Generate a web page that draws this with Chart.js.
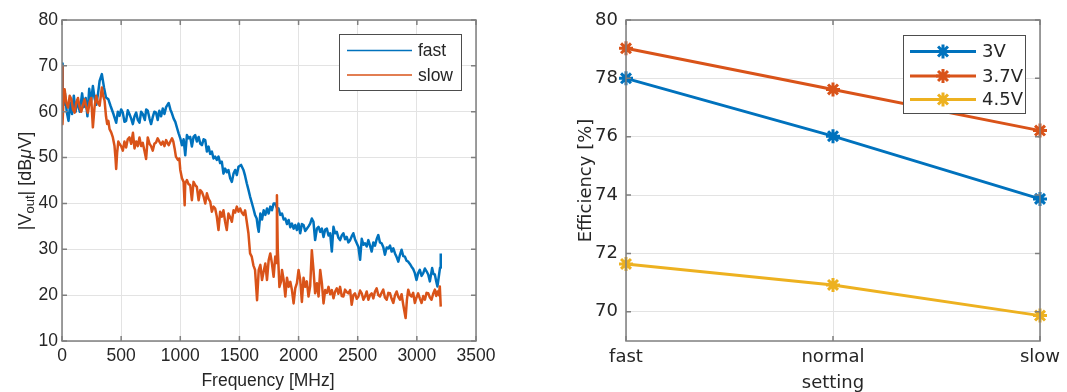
<!DOCTYPE html>
<html><head><meta charset="utf-8">
<script src="https://cdn.jsdelivr.net/npm/chart.js@4/dist/chart.umd.min.js"></script>
<style>
html,body{margin:0;padding:0;background:#fff;width:1067px;height:392px;overflow:hidden}
canvas{position:absolute;top:0}
#c1{left:0}
#c2{left:540px}
</style></head><body>
<canvas id="c1" width="540" height="392"></canvas>
<canvas id="c2" width="527" height="392"></canvas>
<script>
// ---------- Left chart data (spectrum) ----------
const fastFreq = [0,5,15,25,40,55,70,85,100,115,130,150,170,185,200,215,230,245,261,275,290,305,318,337,355,372,392,410,435,458,
472,486,500,514,528,542,556,570,585,599,613,627,641,655,669,683,700,712,725,740,753,767,781,795,809,823,838,852,866,880,
902,916,930,944,958,972,986,1000,1014,1028,1042,1056,1070,1084,1098,1112,1126,1140,1155,1170,1183,1197,1211,1225,1239,1253,1267,1281,1295,1309,
1323,1337,1351,1365,1379,1393,1407,1422,1436,1450,1464,1478,1492,1514,1534,1548,1562,1576,1590,1604,1618,1632,1646,1655,1663,1677,1691,1705,1719,1733,
1747,1761,1775,1789,1803,1817,1831,1845,1860,1874,1888,1902,1916,1930,1944,1958,1972,1986,2000,2014,2028,2042,2056,2070,2084,2098,2112,2126,2140,2155,
2169,2183,2197,2211,2225,2239,2253,2267,2281,2295,2309,2323,2337,2351,2365,2379,2393,2407,2421,2436,2449,2463,2477,2492,2506,2520,2534,2548,2562,2576,
2590,2604,2618,2632,2646,2660,2674,2688,2702,2716,2730,2745,2759,2773,2787,2801,2815,2829,2843,2857,2871,2885,2899,2913,2927,2941,2955,2969,2983,2997,
3011,3025,3040,3054,3068,3082,3096,3110,3129,3140,3152,3164,3174,3188,3196,3202];
const fastVals = [70.5,63,61.5,64,60,58,62,59.5,63.5,60,62.5,60,64,61,63,59,65,62,65.6,63,61.5,64,66.7,68.2,65.3,63.1,62.7,61.3,59.5,57.6,
60,59.1,60.5,59.8,57.8,58,60.3,59.5,58.5,57.3,59,59.8,58.2,57.6,60,59.5,58.2,60.5,60.2,58.5,57.3,58.8,60,59.8,58.2,60.2,59,60.7,59.5,61,
61.9,60.5,59.6,58.5,57.8,56.5,55.3,54.2,52.7,54,50.5,54.9,54.2,54.5,52.4,54.5,54.9,53.5,54.5,53,52.7,54,53.8,51.3,52.4,50.8,51.3,49.8,50.2,49.5,
50.2,48.8,49.1,46.5,47.6,46.8,47.3,45.5,44.7,46.5,47.3,46.2,48,48.4,47.3,46,44.4,43,41.5,40.2,38.9,37.5,36.7,34.9,33.8,37.8,36.5,38.5,37.5,38.9,
37.8,39.3,38.5,40,40,39,38.9,37.5,37.8,36.5,36.7,35.5,36.4,34.8,35.6,34.5,35.3,34.2,35.6,33.5,35.5,35.3,34,34.5,35,35.6,36.7,36,32,34.5,
34.9,33.8,34.5,32.7,34.3,34.5,33,33.5,29.5,34.9,33.5,33.8,32.5,32,33,33.5,32.2,32.7,31.5,32,32.8,33.5,32.2,31.3,30.5,27.7,32.3,31,31.3,30.6,
32,30.8,29.5,31.5,30.8,32.2,33.1,31.5,31.3,30.5,28.8,30.4,30.2,30.8,29.5,30.2,29.1,28.3,27.3,28.8,29.9,28.5,28.4,27.5,27.3,26.8,26.2,25.7,24.8,23.3,
24.8,25.5,24.2,24.8,25.8,25.2,24.5,23,25.9,24.6,24.5,23,21.9,24.5,26,29.1];

const slowFreq = [0,4,12,22,36,51,65,79,93,107,121,135,149,163,177,191,205,219,233,247,261,275,289,303,318,337,348,360,372,382,
392,402,416,430,444,452,458,466,476,486,500,514,528,542,556,570,585,600,613,627,641,655,669,683,697,711,725,740,753,767,
781,795,809,823,838,852,866,880,895,902,916,930,941,952,963,980,992,1000,1014,1028,1037,1042,1056,1070,1084,1098,1112,1126,1140,1155,
1169,1183,1197,1211,1225,1239,1253,1267,1281,1295,1309,1323,1337,1351,1365,1379,1393,1407,1422,1436,1450,1464,1478,1492,1506,1520,1534,1548,1562,1576,
1590,1604,1618,1632,1649,1663,1677,1691,1705,1719,1733,1747,1761,1775,1789,1803,1810,1817,1824,1838,1852,1860,1874,1888,1902,1916,1930,1944,1958,1972,
1986,2000,2014,2028,2042,2056,2070,2084,2098,2112,2126,2140,2155,2169,2183,2197,2211,2225,2239,2253,2267,2281,2295,2309,2323,2337,2351,2365,2379,2393,
2407,2421,2436,2449,2463,2477,2492,2506,2520,2534,2548,2562,2576,2590,2604,2618,2632,2646,2660,2674,2688,2702,2716,2730,2745,2759,2773,2787,2801,2815,
2829,2843,2857,2871,2885,2905,2916,2927,2941,2955,2969,2983,2997,3011,3025,3040,3054,3068,3082,3096,3110,3124,3138,3152,3164,3174,3186,3194,3202];
const slowVals = [70,57.3,62,64.9,62,60.9,63.5,62.7,60.5,59.8,62,63,61,60,61.5,62.7,61,59.8,62,63,56.6,61,63.5,62,61.3,65.3,63.5,62.4,59,57.3,
58,56.2,55.5,54.4,52.5,50,47.5,51,53.5,53,52.5,51.5,53.5,52.2,54,54.4,53,55.4,52,53.5,52.5,54.4,52.5,53.2,51.5,49.7,54.4,53,52.5,51.5,
53,53.3,54.2,53.5,52.8,53.5,52.5,53.8,53,52.7,53.5,54.2,53.5,52,50.2,49.5,49.8,47.3,45.5,44.7,39.6,44.4,45.1,44.2,44,40.7,44.7,44,43.6,40.7,
42.9,42.5,41.5,40,42.2,41,40.4,38.2,39.3,38.9,37.1,34.2,38.2,37.1,38.5,36,34.2,37.8,37,36,38.5,38,39.3,38.2,38.9,38,37.5,38.5,36,33.5,
29.1,28.4,26.5,25.5,18.9,25.5,26.6,23.3,25.2,26.9,23.3,27.6,29.1,26.9,24,28.4,27,41.8,30,21.8,23,25.5,23.3,19.7,23.8,21.8,22.9,21.1,18.2,21.5,
22.6,25.5,23.3,18.5,23.8,21.8,23,19.7,22,29.8,25.5,20.4,22.6,19.7,25.5,22.6,18.2,21.1,20.5,21.8,20.2,21.1,19.3,20.8,21.5,20.3,21.8,19.8,19.7,21.2,
20.7,20.4,21.1,17.9,20,20.4,19.2,19.7,21,20.4,19,19.7,20.8,19,20,20.4,19.3,20.8,21.5,20,19.7,20.5,21.2,19.5,19,20.5,20.4,19.2,18.3,20,
20.8,19.6,19,20.2,17.9,15,19,21.2,20,19.7,20.5,18.3,19.5,20.4,19.3,18.3,19.8,19,20.5,20.4,19.5,19,20.3,21.2,19.8,20.8,20,21.9,17.5];

const leftXTicks = [0,500,1000,1500,2000,2500,3000,3500];
const leftYTicks = [10,20,30,40,50,60,70,80];

// ---------- Right chart data (efficiency) ----------
const settings = ['fast','normal','slow'];
const eff3V  = [78.0, 76.02, 73.87];
const eff37V = [79.03, 77.62, 76.21];
const eff45V = [71.64, 70.92, 69.87];
const rightYTicks = [70,72,74,76,78,80];

// ---------- styling ----------
const TXT='#262626', AX='#7f7f7f', GRID='#e3e3e3';
const LF='"Liberation Sans", Arial, Helvetica, sans-serif';
const RF='"DejaVu Sans", sans-serif';
const BLUE='#0072BD', ORANGE='#D95319', YELLOW='#EDB120';

function drawStar(ctx, x, y, r){
  ctx.beginPath();
  for(let k=0;k<4;k++){
    const a=k*Math.PI/4;
    ctx.moveTo(x-r*Math.cos(a), y-r*Math.sin(a));
    ctx.lineTo(x+r*Math.cos(a), y+r*Math.sin(a));
  }
  ctx.stroke();
}

const boxPlugin = {
  id:'axbox',
  afterDatasetsDraw(chart){
    const {ctx, chartArea:a, scales} = chart;
    ctx.save();
    ctx.strokeStyle=AX; ctx.lineWidth=1.5;
    ctx.strokeRect(a.left, a.top, a.right-a.left, a.bottom-a.top);
    const L=5;
    ctx.beginPath();
    scales.x.ticks.forEach((t,i)=>{const p=scales.x.getPixelForTick(i);
      ctx.moveTo(p,a.bottom); ctx.lineTo(p,a.bottom-L); ctx.moveTo(p,a.top); ctx.lineTo(p,a.top+L);});
    scales.y.ticks.forEach((t,i)=>{const p=scales.y.getPixelForTick(i);
      ctx.moveTo(a.left,p); ctx.lineTo(a.left+L,p); ctx.moveTo(a.right,p); ctx.lineTo(a.right-L,p);});
    ctx.stroke();
    ctx.restore();
  }
};

const legendPlugin = {
  id:'boxLegend',
  afterDraw(chart, args, o){
    const ctx=chart.ctx;
    ctx.save();
    ctx.fillStyle='#fff'; ctx.fillRect(o.x,o.y,o.w,o.h);
    ctx.strokeStyle='#4d4d4d'; ctx.lineWidth=1; ctx.strokeRect(o.x+0.5,o.y+0.5,o.w,o.h);
    chart.data.datasets.forEach((ds,i)=>{
      const cy=o.rows[i];
      ctx.strokeStyle=ds.borderColor; ctx.lineWidth=o.lineWidth; ctx.lineCap='butt';
      ctx.beginPath(); ctx.moveTo(o.x0,cy); ctx.lineTo(o.x1,cy); ctx.stroke();
      if(o.marker){ ctx.lineWidth=ds.pointBorderWidth; drawStar(ctx,(o.x0+o.x1)/2,cy,ds.pointRadius); }
      ctx.fillStyle=TXT; ctx.font=o.font; ctx.textBaseline='middle'; ctx.textAlign='left';
      ctx.fillText(ds.label,o.tx,cy+1);
    });
    ctx.restore();
  }
};

const titlesPlugin = {
  id:'axTitles',
  afterDraw(chart, args, o){
    const ctx=chart.ctx;
    ctx.save();
    ctx.fillStyle=TXT;
    (o.items||[]).forEach(it=>{
      ctx.save();
      ctx.translate(it.x,it.y);
      if(it.rot) ctx.rotate(it.rot);
      ctx.textBaseline='alphabetic';
      let w=0; it.parts.forEach(p=>{ctx.font=p.f; w+=ctx.measureText(p.t).width;});
      let x=-w/2;
      it.parts.forEach(p=>{ctx.font=p.f; ctx.fillText(p.t,x,it.base+(p.dy||0)); x+=ctx.measureText(p.t).width;});
      ctx.restore();
    });
    ctx.restore();
  }
};

function fixTicks(list){ return function(s){ s.ticks = list.map(v=>({value:v})); }; }

// ---------- Left chart ----------
new Chart(document.getElementById('c1'), {
  type:'line',
  data:{ datasets:[
    {label:'fast', data: fastFreq.map((f,i)=>({x:f,y:fastVals[i]})), borderColor:BLUE, borderWidth:2.5, pointRadius:0, tension:0, order:1, borderJoinStyle:'round'},
    {label:'slow', data: slowFreq.map((f,i)=>({x:f,y:slowVals[i]})), borderColor:ORANGE, borderWidth:2.5, pointRadius:0, tension:0, order:0, borderJoinStyle:'round'}
  ]},
  options:{
    responsive:false, animation:false, devicePixelRatio:1,
    layout:{padding:{left:0,right:64,top:20,bottom:0}},
    plugins:{
      legend:{display:false}, tooltip:{enabled:false},
      boxLegend:{x:339,y:34,w:122,h:56,rows:[50.5,75],x0:347,x1:412,tx:418,lineWidth:1.5,marker:false,font:'17.5px '+LF},
      axTitles:{items:[
        {x:268,y:380,base:6,parts:[{t:'Frequency [MHz]',f:'17.5px '+LF}]},
        {x:24,y:181,rot:-Math.PI/2,base:6.5,parts:[
          {t:'|V',f:'18px '+LF},{t:'out',f:'13px '+LF,dy:3},{t:'| [dB',f:'18px '+LF},{t:'\u03BC',f:'italic 18px '+LF},{t:'V]',f:'18px '+LF}]}
      ]}
    },
    scales:{
      x:{type:'linear',min:0,max:3500,afterBuildTicks:fixTicks(leftXTicks),
         afterFit:s=>{s.height=51;},
         grid:{color:GRID,drawTicks:false,lineWidth:1},border:{display:false},
         ticks:{color:TXT,font:{family:LF,size:17.5},padding:5,maxRotation:0,autoSkip:false,callback:v=>String(v)}},
      y:{type:'linear',min:10,max:80,afterBuildTicks:fixTicks(leftYTicks),
         afterFit:s=>{s.width=62;},
         grid:{color:GRID,drawTicks:false,lineWidth:1},border:{display:false},
         ticks:{color:TXT,font:{family:LF,size:17.5},padding:4,callback:v=>String(v)}}
    }
  },
  plugins:[boxPlugin,legendPlugin,titlesPlugin]
});

// ---------- Right chart ----------
const mk = (label,vals,color)=>({label,data:vals,borderColor:color,backgroundColor:color,borderWidth:3,
  pointStyle:'star',pointRadius:7,pointBorderWidth:3,pointBorderColor:color,pointBackgroundColor:color,tension:0});
new Chart(document.getElementById('c2'), {
  type:'line',
  data:{ labels:settings, datasets:[ mk('3V',eff3V,BLUE), mk('3.7V',eff37V,ORANGE), mk('4.5V',eff45V,YELLOW) ]},
  options:{
    responsive:false, animation:false, devicePixelRatio:1,
    layout:{padding:{left:0,right:27,top:20,bottom:0}},
    plugins:{
      legend:{display:false}, tooltip:{enabled:false},
      boxLegend:{x:363,y:35,w:122,h:78,rows:[51.5,76,99.5],x0:370,x1:436,tx:442,lineWidth:3,marker:true,font:'18px '+RF},
      axTitles:{items:[
        {x:293,y:381,base:6.5,parts:[{t:'setting',f:'18px '+RF}]},
        {x:44,y:180.5,rot:-Math.PI/2,base:6.5,parts:[{t:'Efficiency [%]',f:'18px '+RF}]}
      ]}
    },
    scales:{
      x:{type:'category',offset:false,
         afterFit:s=>{s.height=51;},
         grid:{color:GRID,drawTicks:false,offset:false},border:{display:false},
         ticks:{color:TXT,font:{family:RF,size:18},padding:6,maxRotation:0,autoSkip:false}},
      y:{type:'linear',min:69,max:80,afterBuildTicks:fixTicks(rightYTicks),
         afterFit:s=>{s.width=86;},
         grid:{color:GRID,drawTicks:false},border:{display:false},
         ticks:{color:TXT,font:{family:RF,size:18},padding:8}}
    }
  },
  plugins:[boxPlugin,legendPlugin,titlesPlugin]
});
</script>
</body></html>
